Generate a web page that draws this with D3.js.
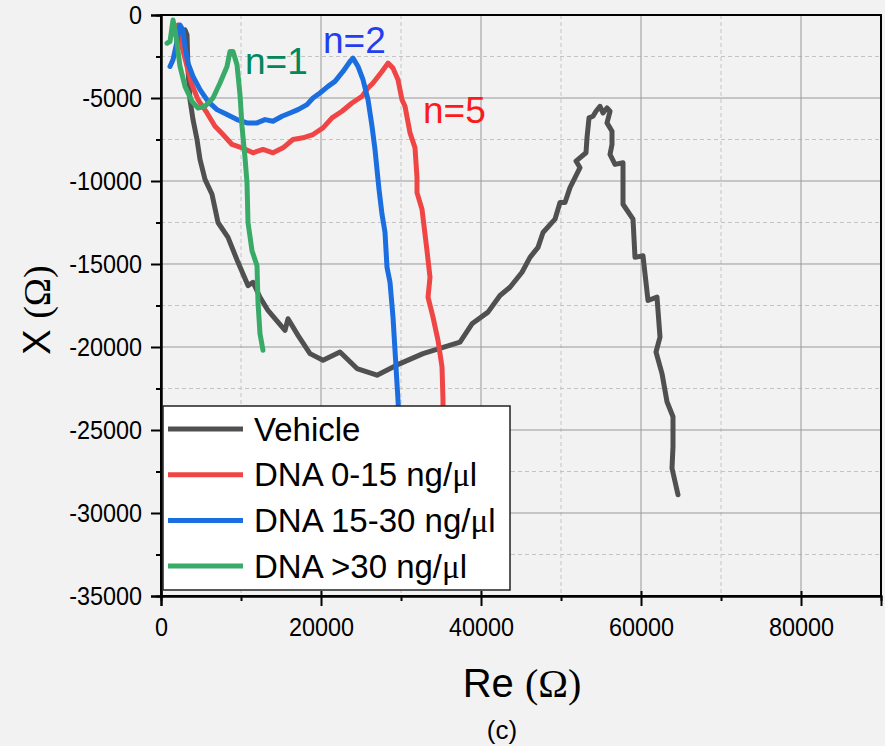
<!DOCTYPE html>
<html>
<head>
<meta charset="utf-8">
<script src="https://cdn.jsdelivr.net/npm/d3@7"></script>
<style>
  body { margin: 0; background: #f2f2f2; }
  svg { display: block; }
</style>
</head>
<body>
<div id="chart"></div>
<script>
// Nyquist-style curves, Re vs X (ohm)
var vehicle = [
  [3000,-900],[3250,-1200],[3375,-3300],[3625,-5100],[4000,-6300],[4500,-7500],
  [4875,-8700],[5500,-9900],[6375,-10800],[7125,-12500],[8375,-13400],[9625,-14900],
  [10875,-16300],[11500,-16100],[12375,-17000],[13375,-17800],[15500,-19000],[15875,-18300],
  [17125,-19300],[18625,-20400],[20250,-20800],[22375,-20300],[24500,-21300],[27000,-21700],
  [29875,-21000],[32750,-20400],[37375,-19700],[38875,-18600],[40875,-17900],[42375,-16900],
  [43625,-16400],[45125,-15500],[46125,-14600],[47125,-14000],[47750,-13100],[49250,-12300],
  [49875,-11300],[50500,-11300],[51125,-10400],[52375,-9200],[51875,-8800],[53125,-8300],
  [53250,-7400],[53500,-6200],[54000,-6100],[54375,-5800],[54875,-5500],[55250,-5900],
  [55750,-5600],[56125,-5800],[55750,-6500],[56375,-7000],[56375,-7800],[56125,-8400],
  [56750,-9000],[57750,-8900],[57750,-10400],[57750,-11400],[59000,-12300],[59250,-14600],
  [60250,-14500],[60875,-17200],[62000,-17000],[62375,-19400],[61875,-20300],[62625,-21600],
  [63250,-23300],[64000,-24200],[64000,-26000],[63875,-27300],[64625,-28900]
];
var dna0_15 = [
  [2125,-600],[2625,-1900],[3250,-3100],[3875,-4200],[4625,-5100],[5750,-5900],
  [6750,-6700],[7750,-7200],[8875,-7800],[10125,-8000],[11500,-8300],[12750,-8100],
  [14000,-8300],[15250,-8000],[16500,-7500],[17750,-7400],[19000,-7200],[20250,-6800],
  [21375,-6200],[22625,-5800],[23875,-5300],[25125,-4900],[25875,-4400],[26500,-4100],
  [27625,-3400],[28375,-2900],[29000,-3200],[29625,-3900],[30125,-5100],[30500,-5500],
  [31125,-7100],[31750,-8000],[32000,-9800],[32000,-10700],[32625,-11700],[33250,-14200],
  [33625,-15800],[33375,-17000],[34000,-18200],[34625,-19600],[35125,-21200],[35250,-23200],
  [35250,-25600]
];
var dna15_30 = [
  [1125,-3100],[1500,-2700],[2000,-1600],[2375,-600],[2750,-900],[3000,-1900],
  [3375,-2900],[4000,-3700],[4875,-4500],[5875,-5200],[7000,-5700],[8250,-6000],
  [9500,-6300],[10750,-6500],[12000,-6500],[13000,-6300],[14000,-6400],[15125,-6100],
  [16125,-5900],[17125,-5700],[18250,-5400],[19000,-5000],[19875,-4700],[20875,-4300],
  [21750,-4000],[22750,-3400],[23625,-2800],[24000,-2600],[24625,-3100],[25250,-3900],
  [25875,-5100],[26375,-6700],[26750,-8100],[27000,-9300],[27250,-10500],[27625,-12000],
  [28000,-13100],[28250,-15200],[28625,-16100],[29000,-18200],[29250,-20200],[29625,-23200],
  [29875,-25600]
];
var dna30 = [
  [750,-1700],[1125,-1600],[1500,-300],[1750,-900],[2000,-1700],[2375,-3100],
  [3000,-4300],[3875,-5200],[4625,-5600],[5500,-5500],[6500,-5000],[7375,-4100],
  [8250,-3100],[8625,-2200],[9000,-2200],[9500,-3000],[9875,-4800],[10125,-6700],
  [10500,-8600],[10750,-10100],[10875,-12500],[11375,-14200],[12000,-15100],[12125,-17300],
  [12375,-19200],[12750,-20200]
];

var seriesNames = ["Vehicle", "DNA 0-15 ng/\u03bcl", "DNA 15-30 ng/\u03bcl", "DNA >30 ng/\u03bcl"];
var seriesData = [vehicle, dna0_15, dna15_30, dna30];
var seriesColors = ["#505050", "#f04545", "#1a6ee0", "#3aaa68"];

var xMajor = [0, 20000, 40000, 60000, 80000];
var xMinor = [10000, 30000, 50000, 70000];
var yMajor = [0, -5000, -10000, -15000, -20000, -25000, -30000, -35000];
var yMinor = [-2500, -7500, -12500, -17500, -22500, -27500, -32500];

var annotations = [
  {text: "n=1", re: 10500, x: -3550, color: "#00875a"},
  {text: "n=2", re: 20250, x: -2300, color: "#1f3ff0"},
  {text: "n=5", re: 32750, x: -6500, color: "#ff1a1a"}
];

var width = 885, height = 746;
var margin = {top: 15, right: 4, bottom: 150, left: 161};
var plotW = width - margin.left - margin.right;
var plotH = height - margin.top - margin.bottom;
var sans = "'Liberation Sans', Arial, sans-serif";
var serif = "'Liberation Serif', 'Times New Roman', serif";

var svg = d3.select("#chart").append("svg")
  .attr("width", width).attr("height", height)
  .style("background", "#f2f2f2");

var g = svg.append("g").attr("transform", "translate(" + margin.left + "," + margin.top + ")");

var x = d3.scaleLinear().domain([0, 90000]).range([0, plotW]);
var y = d3.scaleLinear().domain([0, -35000]).range([0, plotH]);

// grid
g.selectAll(".gx-minor").data(xMinor).enter().append("line")
  .attr("x1", d => x(d)).attr("x2", d => x(d)).attr("y1", 0).attr("y2", plotH)
  .attr("stroke", "#c4c4c4").attr("stroke-dasharray", "4,3");
g.selectAll(".gy-minor").data(yMinor).enter().append("line")
  .attr("y1", d => y(d)).attr("y2", d => y(d)).attr("x1", 0).attr("x2", plotW)
  .attr("stroke", "#c4c4c4").attr("stroke-dasharray", "4,3");
g.selectAll(".gx-major").data(xMajor.slice(1)).enter().append("line")
  .attr("x1", d => x(d)).attr("x2", d => x(d)).attr("y1", 0).attr("y2", plotH)
  .attr("stroke", "#999");
g.selectAll(".gy-major").data(yMajor.slice(1, -1)).enter().append("line")
  .attr("y1", d => y(d)).attr("y2", d => y(d)).attr("x1", 0).attr("x2", plotW)
  .attr("stroke", "#999");

// curves
g.append("clipPath").attr("id", "clip").append("rect")
  .attr("width", plotW).attr("height", plotH);

var line = d3.line().x(d => x(d[0])).y(d => y(d[1]));

g.append("g").attr("clip-path", "url(#clip)")
  .selectAll("path").data(seriesData).enter().append("path")
  .attr("d", line)
  .attr("fill", "none")
  .attr("stroke", (d, i) => seriesColors[i])
  .attr("stroke-width", 5)
  .attr("stroke-linejoin", "round")
  .attr("stroke-linecap", "round");

// frame
g.append("rect").attr("width", plotW).attr("height", plotH)
  .attr("fill", "none").attr("stroke", "#000").attr("stroke-width", 2);

// axes
var xAxis = g.append("g").attr("transform", "translate(0," + plotH + ")")
  .call(d3.axisBottom(x).tickValues(xMajor).tickSize(10).tickPadding(12).tickFormat(d => String(d)));
xAxis.selectAll(".tick line").attr("y1", -5);
g.append("g").attr("transform", "translate(0," + plotH + ")")
  .call(d3.axisBottom(x).tickValues(xMinor).tickSize(5).tickFormat(""));

var yAxis = g.append("g")
  .call(d3.axisLeft(y).tickValues(yMajor).tickSize(10).tickPadding(9).tickFormat(d => String(d)));
g.append("g")
  .call(d3.axisLeft(y).tickValues(yMinor).tickSize(5).tickFormat(""));

g.selectAll(".domain").attr("stroke", "#000").attr("stroke-width", 2);
g.selectAll(".tick line").attr("stroke", "#000").attr("stroke-width", 2);

xAxis.selectAll("text").attr("font-family", sans).attr("font-size", 26).attr("fill", "#000")
  .attr("transform", "scale(0.9,1)");
yAxis.selectAll("text").attr("font-family", sans).attr("font-size", 26).attr("fill", "#000")
  .attr("x", -19 / 0.9).attr("transform", "scale(0.9,1)");

// axis titles
var yt = svg.append("text")
  .attr("transform", "translate(50,310) rotate(-90)")
  .attr("text-anchor", "middle")
  .attr("font-family", sans).attr("font-size", 38).attr("fill", "#000");
yt.append("tspan").text("X ");
yt.append("tspan").attr("font-family", serif).text("(\u03a9)");

var xt = svg.append("text")
  .attr("x", 522).attr("y", 697)
  .attr("text-anchor", "middle")
  .attr("font-family", sans).attr("font-size", 40).attr("fill", "#000");
xt.append("tspan").text("Re ");
xt.append("tspan").attr("font-family", serif).text("(\u03a9)");

svg.append("text").attr("x", 502).attr("y", 739).attr("text-anchor", "middle")
  .attr("font-family", sans).attr("font-size", 26).attr("fill", "#000").text("(c)");

// annotations
g.selectAll(".ann").data(annotations).enter().append("text")
  .attr("x", d => x(d.re)).attr("y", d => y(d.x))
  .attr("font-family", sans).attr("font-size", 37)
  .attr("fill", d => d.color).text(d => d.text);

// legend
var leg = svg.append("g").attr("transform", "translate(163,406)");
leg.append("rect").attr("width", 347).attr("height", 184)
  .attr("fill", "#fff").attr("stroke", "#222").attr("stroke-width", 1.5);
var rows = leg.selectAll(".row").data(seriesNames).enter().append("g")
  .attr("transform", (d, i) => "translate(0," + (23 + i * 45.7) + ")");
rows.append("line").attr("x1", 5).attr("x2", 80)
  .attr("stroke", (d, i) => seriesColors[i]).attr("stroke-width", 5);
rows.append("text").attr("x", 91).attr("dy", "0.35em")
  .attr("font-family", sans).attr("font-size", 33).attr("fill", "#000")
  .each(function(d) {
    var t = d3.select(this);
    var k = d.indexOf("\u03bc");
    if (k < 0) { t.text(d); return; }
    t.append("tspan").text(d.slice(0, k));
    t.append("tspan").attr("font-family", serif).text("\u03bc");
    t.append("tspan").text(d.slice(k + 1));
  });
</script>
</body>
</html>
